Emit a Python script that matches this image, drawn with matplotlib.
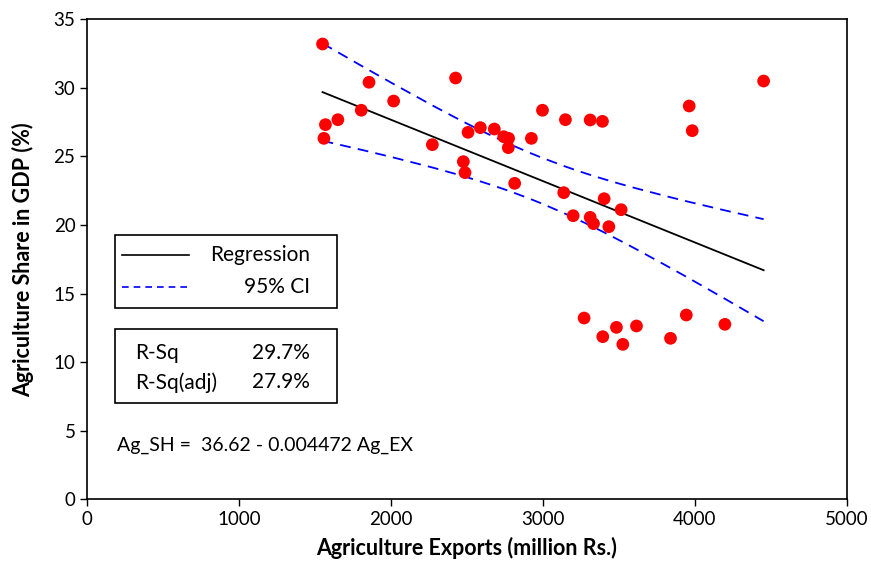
import numpy as np
import matplotlib
matplotlib.use("Agg")
import matplotlib.pyplot as plt
from matplotlib.patches import Rectangle

plt.rcParams['font.family'] = ['Lato', 'DejaVu Sans']

# agriculture exports (million Rs.) and agriculture share in GDP (%)
ag_ex = [1549, 1855, 2425, 2017, 1804, 1650, 1568, 1558, 2272, 2507,
         2588, 2680, 2742, 2774, 2772, 2924, 2997, 3148, 2476, 2487,
         2814, 3137, 3199, 4453, 3963, 3983, 3311, 3392, 3403, 3515,
         3311, 3333, 3434, 3271, 3944, 4198, 3484, 3616, 3394, 3840,
         3526]
ag_sh = [33.20, 30.41, 30.72, 29.04, 28.37, 27.68, 27.32, 26.32, 25.86, 26.76,
         27.10, 27.00, 26.44, 26.32, 25.64, 26.32, 28.37, 27.68, 24.62, 23.82,
         23.04, 22.36, 20.68, 30.50, 28.68, 26.88, 27.66, 27.56, 21.92, 21.12,
         20.56, 20.10, 19.88, 13.22, 13.44, 12.76, 12.54, 12.64, 11.86, 11.74,
         11.30]
intercept, slope = 36.62, -0.004472
rsq, rsq_adj = "29.7%", "27.9%"

x = np.array(ag_ex, dtype=float)
y = np.array(ag_sh, dtype=float)
n = len(x)

# fitted line and 95% confidence band for the mean
xs = np.sort(x)
fit = intercept + slope * xs
resid = y - (intercept + slope * x)
s = np.sqrt(np.sum(resid**2) / (n - 2))
sxx = np.sum((x - x.mean())**2)
t = 2.0227  # t(0.975, 39)
half = t * s * np.sqrt(1.0/n + (xs - x.mean())**2 / sxx)

fig = plt.figure(figsize=(8.71, 5.68), dpi=100)
ax = fig.add_axes([0.1002, 0.1209, 0.8719, 0.8451])

ax.plot(xs, fit, color='black', lw=1.3, zorder=2)
ax.plot(xs, fit + half, color='#0000ff', lw=1.3, ls=(0, (6, 4)), zorder=2)
ax.plot(xs, fit - half, color='#0000ff', lw=1.3, ls=(0, (6, 4)), zorder=2)
ax.scatter(x, y, s=84, color='#ff0000', edgecolors='none', zorder=3)

ax.set_xlim(0, 5000)
ax.set_ylim(0, 35)
ax.set_xticks(range(0, 5001, 1000))
ax.set_yticks(range(0, 36, 5))
ax.tick_params(direction='out', length=5, width=1, labelsize=13.5, colors='black')
for sp in ax.spines.values():
    sp.set_linewidth(1.2)

ax.set_xlabel("Agriculture Exports (million Rs.)", fontsize=15.5, fontweight='bold', labelpad=6)
ax.set_ylabel("Agriculture Share in GDP (%)", fontsize=15.5, fontweight='bold', labelpad=14)

# legend box
ax.add_patch(Rectangle((0.0365, 0.398), 0.2919, 0.1526, transform=ax.transAxes,
                       fill=False, ec='black', lw=1.2, zorder=4))
ax.plot([0.0457, 0.1335], [0.510, 0.510], transform=ax.transAxes, color='black', lw=1.2)
ax.plot([0.0457, 0.1335], [0.443, 0.443], transform=ax.transAxes, color='#0000ff',
        lw=1.2, ls=(0, (4, 3)))
ax.text(0.2933, 0.510, "Regression", transform=ax.transAxes, ha='right', va='center', fontsize=15)
ax.text(0.2933, 0.443, "95% CI", transform=ax.transAxes, ha='right', va='center', fontsize=15)

# R-sq box
ax.add_patch(Rectangle((0.0365, 0.2013), 0.2919, 0.1541, transform=ax.transAxes,
                       fill=False, ec='black', lw=1.2, zorder=4))
ax.text(0.0628, 0.305, "R-Sq", transform=ax.transAxes, ha='left', va='center', fontsize=15)
ax.text(0.2933, 0.305, rsq, transform=ax.transAxes, ha='right', va='center', fontsize=15)
ax.text(0.0628, 0.244, "R-Sq(adj)", transform=ax.transAxes, ha='left', va='center', fontsize=15)
ax.text(0.2933, 0.244, rsq_adj, transform=ax.transAxes, ha='right', va='center', fontsize=15)

ax.text(0.0387, 0.113, "Ag_SH =  %.2f - %.6f Ag_EX" % (intercept, -slope),
        transform=ax.transAxes, ha='left', va='center', fontsize=14)

plt.savefig("out.png", dpi=100)
plt.close()
